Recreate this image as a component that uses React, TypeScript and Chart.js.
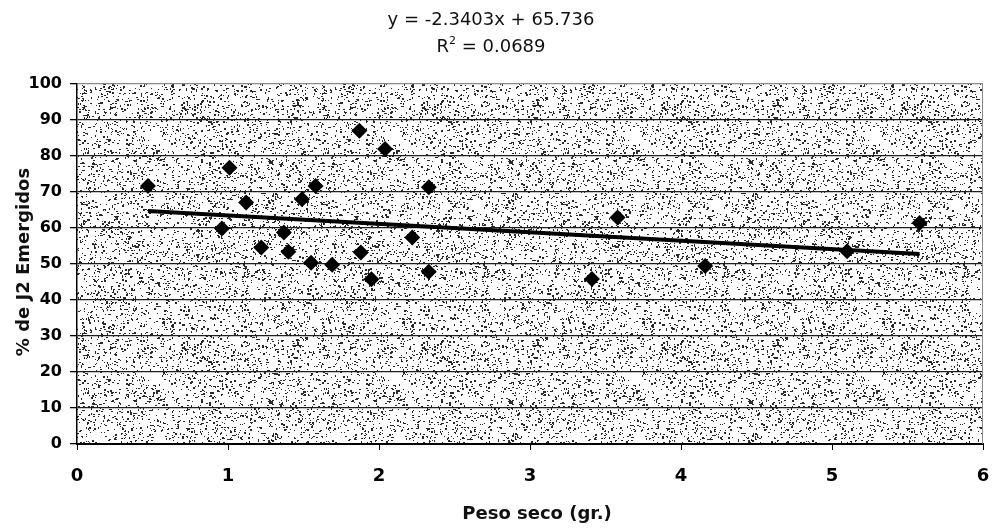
import React, { useEffect, useRef } from 'react';
import { Chart, registerables } from 'chart.js';

Chart.register(...registerables);

// Data
const pesoSeco = [0.47, 0.96, 1.01, 1.12, 1.22, 1.37, 1.40, 1.49, 1.55, 1.58, 1.69, 1.87, 1.88, 1.95, 2.04, 2.22, 2.33, 2.33, 3.41, 3.58, 4.16, 5.10, 5.58];
const emergidos = [71.6, 59.8, 76.6, 67.0, 54.5, 58.7, 53.3, 67.9, 50.3, 71.6, 49.7, 86.9, 53.1, 45.7, 81.8, 57.3, 71.2, 47.8, 45.8, 62.8, 49.4, 53.5, 61.3];
const trendX = [0.47, 5.58];
const trendY = [64.64, 52.68];
const equationText = 'y = -2.3403x + 65.736';
const r2Value = '0.0689';
const xTitle = 'Peso seco (gr.)';
const yTitle = '% de J2 Emergidos';

const FONT = '"DejaVu Sans", "Liberation Sans", Arial, sans-serif';

function makePattern(): CanvasPattern | string {
  const c = document.createElement('canvas');
  c.width = 240;
  c.height = 240;
  const g = c.getContext('2d');
  if (!g) return '#d6d6d6';
  g.fillStyle = '#ffffff';
  g.fillRect(0, 0, 240, 240);
  let s = 12345;
  const rnd = () => {
    s = (s * 1103515245 + 12345) & 0x7fffffff;
    return s / 0x7fffffff;
  };
  g.fillStyle = '#2a2a2a';
  for (let i = 0; i < 4400; i++) {
    const x = Math.floor(rnd() * 240);
    const y = Math.floor(rnd() * 240);
    const w = rnd() < 0.4 ? 2 : 1;
    const h = rnd() < 0.3 ? 2 : 1;
    g.fillRect(x, y, w, h);
  }
  const p = g.createPattern(c, 'repeat');
  return p || '#d6d6d6';
}

const bgPlugin = {
  id: 'stippleBg',
  beforeDraw(chart: any) {
    const { ctx, chartArea } = chart;
    if (!chartArea) return;
    const { left, top, width, height } = chartArea;
    ctx.save();
    ctx.fillStyle = (chart as any).$pattern || ((chart as any).$pattern = makePattern());
    ctx.fillRect(left, top, width, height);
    ctx.restore();
  },
  afterDraw(chart: any) {
    const { ctx, chartArea } = chart;
    const { right, top, bottom } = chartArea;
    ctx.save();
    // right border
    ctx.strokeStyle = '#8a8a8a';
    ctx.lineWidth = 1;
    ctx.beginPath();
    ctx.moveTo(right - 0.5, top);
    ctx.lineTo(right - 0.5, bottom);
    ctx.stroke();

    ctx.fillStyle = '#111';
    ctx.textBaseline = 'middle';
    // equation
    ctx.font = `18px ${FONT}`;
    ctx.textAlign = 'center';
    ctx.fillText(equationText, 491, 20);
    // R^2 line
    const p1 = 'R';
    const p3 = ' = ' + r2Value;
    ctx.font = `18px ${FONT}`;
    const w1 = ctx.measureText(p1).width;
    const w3 = ctx.measureText(p3).width;
    ctx.font = `11px ${FONT}`;
    const w2 = ctx.measureText('2').width;
    const total = w1 + w2 + w3;
    let x = 491 - total / 2;
    ctx.textAlign = 'left';
    ctx.font = `18px ${FONT}`;
    ctx.fillText(p1, x, 47);
    x += w1;
    ctx.font = `11px ${FONT}`;
    ctx.fillText('2', x, 41);
    x += w2;
    ctx.font = `18px ${FONT}`;
    ctx.fillText(p3, x, 47);

    // axis titles
    ctx.font = `bold 18px ${FONT}`;
    ctx.textAlign = 'center';
    ctx.fillText(xTitle, 537, 514);
    ctx.save();
    ctx.translate(24, 262);
    ctx.rotate(-Math.PI / 2);
    ctx.fillText(yTitle, 0, 0);
    ctx.restore();
    ctx.restore();
  },
};

export default function App() {
  const ref = useRef<HTMLCanvasElement | null>(null);

  useEffect(() => {
    document.body.style.margin = '0';
    if (!ref.current) return;
    const points = pesoSeco.map((x, i) => ({ x, y: emergidos[i] }));
    const trend = trendX.map((x, i) => ({ x, y: trendY[i] }));
    const chart = new Chart(ref.current, {
      type: 'scatter',
      data: {
        datasets: [
          {
            label: 'Datos',
            data: points,
            pointStyle: 'rectRot',
            pointRadius: 8,
            pointHoverRadius: 8,
            backgroundColor: '#000',
            borderColor: '#000',
            borderWidth: 0,
          },
          {
            type: 'line',
            label: 'Tendencia',
            data: trend,
            showLine: true,
            borderColor: '#000',
            borderWidth: 4,
            pointRadius: 0,
            fill: false,
          } as any,
        ],
      },
      options: {
        animation: false,
        responsive: true,
        maintainAspectRatio: false,
        layout: { padding: { left: 0, right: 12, top: 83.5, bottom: 0 } },
        plugins: {
          legend: { display: false },
          title: { display: false },
          tooltip: { enabled: false },
        },
        scales: {
          x: {
            type: 'linear',
            min: 0,
            max: 6,
            ticks: {
              stepSize: 1,
              color: '#000',
              padding: 16,
              font: { family: FONT, size: 18, weight: 'bold' },
            },
            grid: {
              display: true,
              drawOnChartArea: false,
              drawTicks: true,
              tickLength: 6,
              tickColor: '#000',
            },
            border: { display: true, color: '#000', width: 2 },
            afterFit: (scale: any) => {
              scale.height = 87;
              scale.paddingLeft = 0;
              scale.paddingRight = 0;
            },
          },
          y: {
            type: 'linear',
            min: 0,
            max: 100,
            ticks: {
              stepSize: 10,
              color: '#000',
              padding: 8,
              font: { family: FONT, size: 16, weight: 'bold' },
            },
            grid: {
              display: true,
              drawOnChartArea: true,
              drawTicks: true,
              tickLength: 7,
              tickColor: '#000',
              color: (c: any) => (c.tick && c.tick.value === 100 ? '#8a8a8a' : '#1e1e1e'),
              lineWidth: 1.3,
            },
            border: { display: true, color: '#000', width: 1.5 },
            afterFit: (scale: any) => {
              scale.width = 77;
              scale.paddingTop = 0;
              scale.paddingBottom = 0;
            },
          },
        },
      },
      plugins: [bgPlugin],
    });
    return () => chart.destroy();
  }, []);

  return (
    <div style={{ position: 'fixed', left: 0, top: 0, width: 995, height: 531, background: '#fff' }}>
      <canvas ref={ref} />
    </div>
  );
}
